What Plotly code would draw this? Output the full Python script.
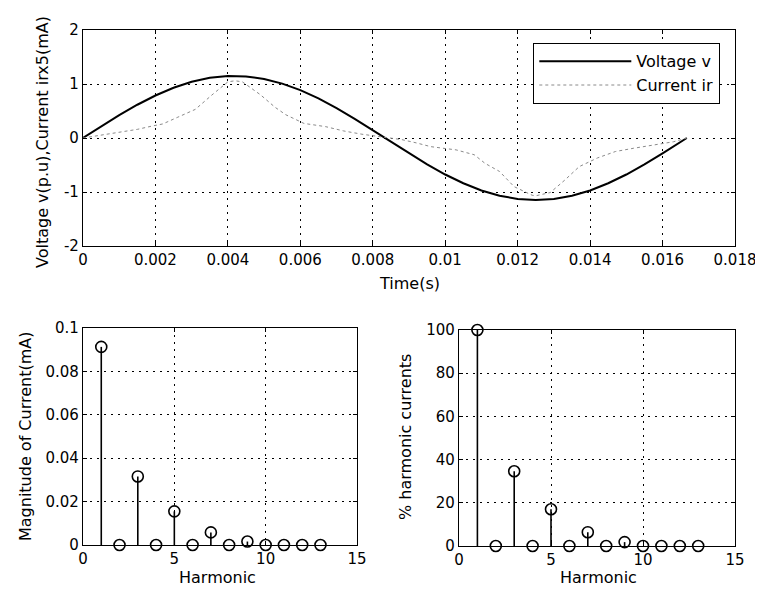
import plotly.graph_objects as go

# ---------------- data ----------------
t_v = [0, 0.0005, 0.001, 0.0015, 0.002, 0.0025, 0.003, 0.0035, 0.004, 0.0045,
       0.005, 0.0055, 0.006, 0.0065, 0.007, 0.0075, 0.008, 0.0085, 0.009, 0.0095,
       0.010, 0.0105, 0.011, 0.0115, 0.012, 0.0125, 0.013, 0.0135, 0.014, 0.0145,
       0.015, 0.0155, 0.016, 0.0165, 0.01667]
voltage = [0, 0.216, 0.423, 0.616, 0.787, 0.930, 1.041, 1.114, 1.148, 1.141,
           1.094, 1.007, 0.886, 0.733, 0.554, 0.355, 0.144, -0.072, -0.286, -0.490,
           -0.676, -0.838, -0.971, -1.069, -1.129, -1.150, -1.129, -1.069, -0.971, -0.838,
           -0.676, -0.490, -0.286, -0.072, 0]

t_i = [0, 0.0005, 0.001, 0.0015, 0.0019, 0.0022, 0.0026, 0.0031, 0.0036, 0.0040, 0.0042,
       0.0044, 0.0049, 0.0053, 0.0056, 0.0061, 0.0067, 0.0072, 0.0077, 0.0083, 0.0088,
       0.0092, 0.0096, 0.0103, 0.0108, 0.0111, 0.0115, 0.0119, 0.0124, 0.0125, 0.0129,
       0.0133, 0.0137, 0.0142, 0.0147, 0.0152, 0.0158, 0.0163, 0.01667]
current = [0, 0.05, 0.10, 0.16, 0.22, 0.26, 0.38, 0.53, 0.82, 1.04, 1.06,
           1.04, 0.80, 0.57, 0.43, 0.27, 0.21, 0.13, 0.07, 0.02, -0.03,
           -0.09, -0.16, -0.22, -0.31, -0.47, -0.62, -0.90, -1.06, -1.07, -1.01,
           -0.78, -0.53, -0.37, -0.25, -0.19, -0.13, -0.07, 0]

harmonic = [1, 2, 3, 4, 5, 6, 7, 8, 9, 10, 11, 12, 13]
magnitude = [0.0913, 0, 0.0316, 0, 0.0155, 0, 0.0058, 0, 0.0016, 0, 0, 0, 0]
percent = [100, 0, 34.6, 0, 17.0, 0, 6.4, 0, 1.8, 0, 0, 0, 0]

top_xticks = [0, 0.002, 0.004, 0.006, 0.008, 0.010, 0.012, 0.014, 0.016, 0.018]
top_xlabels = ["0", "0.002", "0.004", "0.006", "0.008", "0.01", "0.012", "0.014", "0.016", "0.018"]
top_yticks = [-2, -1, 0, 1, 2]
top_ylabels = ["-2", "-1", "0", "1", "2"]
h_ticks = [0, 5, 10, 15]
h_labels = ["0", "5", "10", "15"]
mag_ticks = [0, 0.02, 0.04, 0.06, 0.08, 0.1]
mag_labels = ["0", "0.02", "0.04", "0.06", "0.08", "0.1"]
pct_ticks = [0, 20, 40, 60, 80, 100]
pct_labels = ["0", "20", "40", "60", "80", "100"]

FONT = "DejaVu Sans"
OFF = 8              # default page body margin
W, H = 763 - OFF, 598 - OFF

def px(x):
    return (x - OFF) / W

def py(y):
    return 1 - (y - OFF) / H

fig = go.Figure()

fig.add_trace(go.Scatter(x=t_v, y=voltage, mode="lines", name="Voltage v",
                         line=dict(color="black", width=2), xaxis="x", yaxis="y"))
fig.add_trace(go.Scatter(x=t_i, y=current, mode="lines", name="Current ir",
                         line=dict(color="#8a8a8a", width=1, dash="3px,3px"),
                         xaxis="x", yaxis="y"))

def stem(xs, ys, xa, ya):
    return go.Scatter(
        x=xs, y=ys, mode="markers", showlegend=False, cliponaxis=False,
        marker=dict(symbol="circle-open", size=11, color="black",
                    line=dict(width=1.6, color="black")),
        error_y=dict(type="data", symmetric=False, array=[0] * len(ys),
                     arrayminus=ys, width=0, thickness=1.6, color="black"),
        xaxis=xa, yaxis=ya)

fig.add_trace(stem(harmonic, magnitude, "x2", "y2"))
fig.add_trace(stem(harmonic, percent, "x3", "y3"))

def ax(domain, rng, tv, tt, anchor):
    return dict(domain=domain, range=rng, anchor=anchor, tickvals=tv, ticktext=tt,
                automargin=False,
                showline=True, linecolor="black", linewidth=1.3, mirror="ticks",
                ticks="inside", ticklen=4, tickcolor="black", tickwidth=1,
                showgrid=True, gridcolor="black", gridwidth=1, griddash="2px,5px",
                zeroline=False, tickfont=dict(family=FONT, size=15, color="black"))

fig.update_layout(
    width=W, height=H, margin=dict(l=0, r=0, t=0, b=0, autoexpand=False),
    paper_bgcolor="white", plot_bgcolor="white",
    xaxis=ax([px(83), px(735)], [0, 0.018], top_xticks, top_xlabels, "y"),
    yaxis=ax([py(246), py(30)], [-2, 2], top_yticks, top_ylabels, "x"),
    xaxis2=ax([px(83), px(357)], [0, 15], h_ticks, h_labels, "y2"),
    yaxis2=ax([py(545), py(328)], [0, 0.1], mag_ticks, mag_labels, "x2"),
    xaxis3=ax([px(459), px(735)], [0, 15], h_ticks, h_labels, "y3"),
    yaxis3=ax([py(546), py(330)], [0, 100], pct_ticks, pct_labels, "x3"),
    showlegend=True,
    legend=dict(x=px(720), y=py(43), xanchor="right", yanchor="top",
                bgcolor="white", bordercolor="black", borderwidth=1.3,
                font=dict(family=FONT, size=16, color="black"),
                tracegroupgap=0, itemwidth=92),
)

def label(text, x, y, angle=0):
    fig.add_annotation(text=text, x=px(x), y=py(y), xref="paper", yref="paper",
                       showarrow=False, textangle=angle, xanchor="center", yanchor="middle",
                       font=dict(family=FONT, size=16, color="black"))

label("Voltage v(p.u),Current irx5(mA)", 43, 142, -90)
label("Time(s)", 409, 283)
label("Magnitude of Current(mA)", 25, 437, -90)
label("Harmonic", 217, 577)
label("% harmonic currents", 405, 437, -90)
label("Harmonic", 598, 577)

fig.write_html("out.html")
